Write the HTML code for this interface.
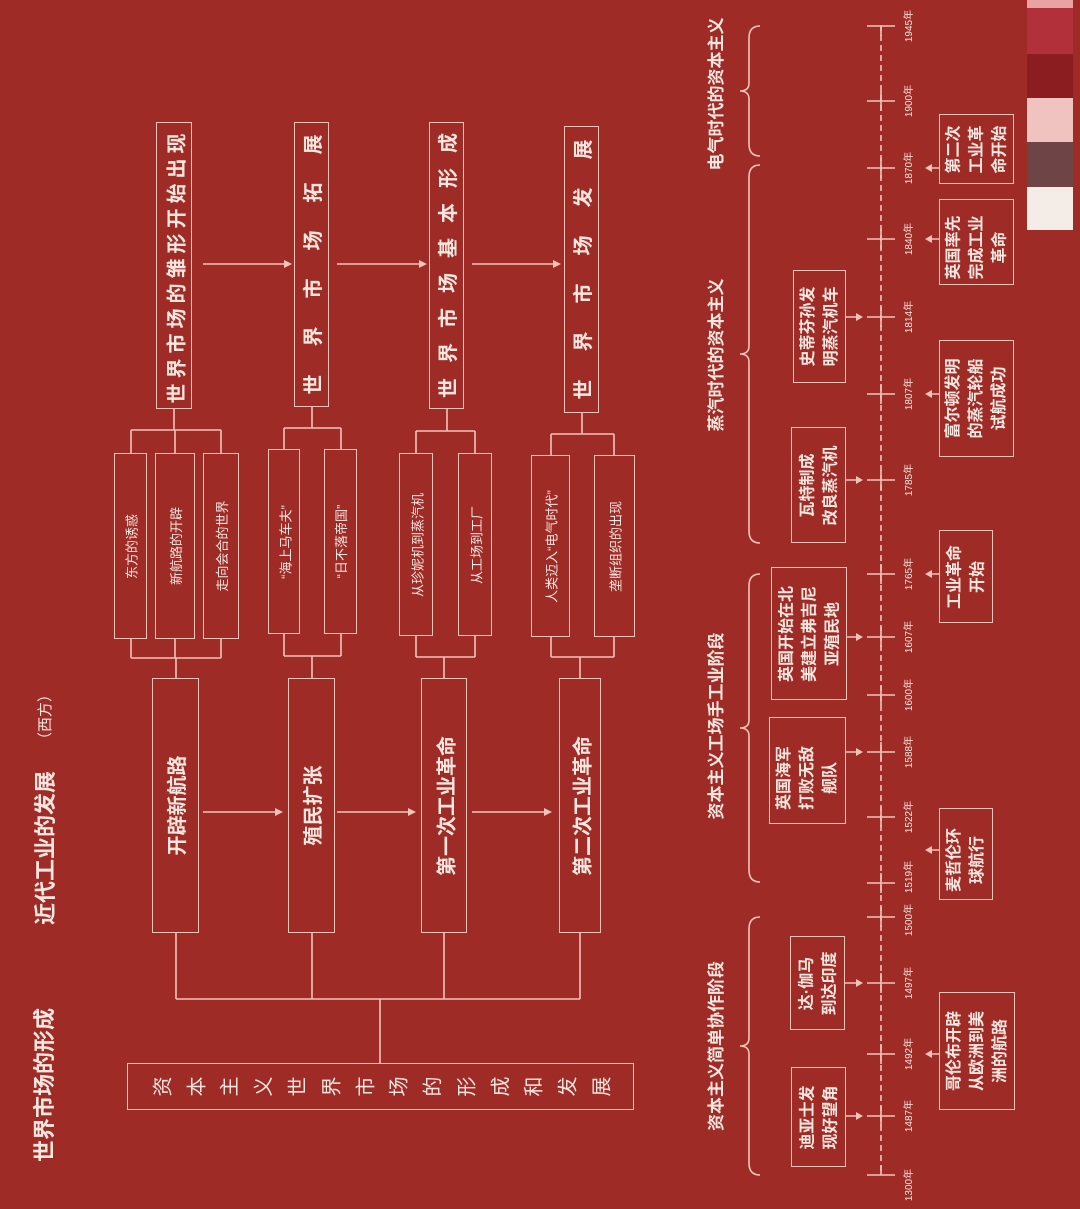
<!DOCTYPE html>
<html><head><meta charset="utf-8">
<style>
html,body{margin:0;padding:0}
body{width:1080px;height:1209px;background:#9f2b27;position:relative;overflow:hidden;font-family:"Liberation Sans","Noto Sans CJK SC",sans-serif;color:#f8e6df}
.b{position:absolute;border:1.6px solid #f1c4b8;box-sizing:border-box}
.t{position:absolute;left:50%;top:50%;display:flex;align-items:center;justify-content:center;text-align:center;transform:rotate(-90deg);white-space:nowrap}
.l{position:absolute;transform:rotate(-90deg);text-align:center;white-space:nowrap}
svg{position:absolute;left:0;top:0}
.yr{font-size:10px;letter-spacing:0}
.tl{font-size:16px;font-weight:bold;line-height:23px}
</style></head><body>

<svg width="1080" height="1209" viewBox="0 0 1080 1209">
<g stroke="#f1c4b8" stroke-width="1.6" fill="none">
<path d="M174 408V430M131 430H221M131 430V453M175 430V453M221 430V453"/>
<path d="M312 406V428M284 428H341M284 428V449M341 428V449"/>
<path d="M447 408V431M416 431H475M416 431V453M475 431V453"/>
<path d="M582 413V434M551 434H614M551 434V455M614 434V455"/>
<path d="M131 639V658M175 639V658M221 639V658M131 658H221M176 658V678"/>
<path d="M284 634V656M341 634V656M284 656H341M312 656V678"/>
<path d="M416 636V657M475 636V657M416 657H475M444 657V678"/>
<path d="M551 637V657M614 637V657M551 657H614M580 657V678"/>
<path d="M176 933V999M312 933V999M444 933V999M580 933V999M176 999H580M380 999V1063"/>
<path d="M203 264H286M337 264H421M472 264H555M203 812H277M337 812H410M472 812H546"/>
<path d="M881 25V1175" stroke-dasharray="6,4"/>
<path d="M867 26H895M867 101H895M867 168H895M867 239H895M867 317H895M867 394H895M867 480H895M867 574H895M867 637H895M867 695H895M867 752H895M867 817H895M867 883H895M867 917H895M867 983H895M867 1054H895M867 1116H895M867 1175H895"/>
<path d="M881 26V36M881 91V111M881 158V178M881 229V249M881 307V327M881 384V404M881 470V490M881 564V584M881 627V647M881 685V705M881 742V762M881 807V827M881 873V893M881 907V927M881 973V993M881 1044V1064M881 1106V1126M881 1165V1175"/>
<path d="M846 480H858M846 317H858M847 637H858M846 752H858M845 983H858M846 1116H858"/>
<path d="M939 168H929M939 239H929M939 394H929M939 574H929M939 850H929M939 1054H929"/>
<path d="M760 26Q749 26 749 38V83Q749 91 740 91Q749 91 749 99V144Q749 156 760 156"/>
<path d="M760 165Q749 165 749 177V346Q749 354 740 354Q749 354 749 362V531Q749 543 760 543"/>
<path d="M760 574Q749 574 749 586V720Q749 728 740 728Q749 728 749 736V870Q749 882 760 882"/>
<path d="M760 917Q749 917 749 929V1038Q749 1046 740 1046Q749 1046 749 1054V1163Q749 1175 760 1175"/>
</g>
<g fill="#f1c4b8">
<polygon points="292,264 284,260 284,268"/><polygon points="427,264 419,260 419,268"/><polygon points="561,264 553,260 553,268"/>
<polygon points="283,812 275,808 275,816"/><polygon points="416,812 408,808 408,816"/><polygon points="552,812 544,808 544,816"/>
<polygon points="863,480 856,476 856,484"/><polygon points="863,317 856,313 856,321"/><polygon points="863,637 856,633 856,641"/><polygon points="863,752 856,748 856,756"/><polygon points="863,983 856,979 856,987"/><polygon points="863,1116 856,1112 856,1120"/>
<polygon points="925,168 932,164 932,172"/><polygon points="925,239 932,235 932,243"/><polygon points="925,394 932,390 932,398"/><polygon points="925,574 932,570 932,578"/><polygon points="925,850 932,846 932,854"/><polygon points="925,1054 932,1050 932,1058"/>
</g>
<rect x="1027" y="0" width="46" height="8" fill="#e9a3a3"/>
<rect x="1027" y="8" width="46" height="46" fill="#b1303a"/>
<rect x="1027" y="54" width="46" height="44" fill="#8b1c20"/>
<rect x="1027" y="98" width="46" height="44" fill="#f0c2c0"/>
<rect x="1027" y="142" width="46" height="45" fill="#6f4446"/>
<rect x="1027" y="187" width="46" height="43" fill="#f4ece7"/>
</svg>

<div class="l" style="left:-45px;top:1072px;width:180px;height:26px;line-height:26px;font-size:22px;font-weight:bold">世界市场的形成</div>
<div class="l" style="left:-48px;top:835px;width:188px;height:26px;line-height:26px;font-size:22px;font-weight:bold">近代工业的发展</div>
<div class="l" style="left:6px;top:705px;width:80px;height:24px;line-height:24px;font-size:15px">（西方）</div>

<div class="b" style="left:156px;top:122px;width:36px;height:287px"><div class="t" style="width:287px;height:36px;margin-left:-143.5px;margin-top:-18px;font-size:20px;font-weight:bold;letter-spacing:5px">世界市场的雏形开始出现</div></div>
<div class="b" style="left:294px;top:122px;width:35px;height:285px"><div class="t" style="width:285px;height:35px;margin-left:-142.5px;margin-top:-17.5px;font-size:20px;font-weight:bold;letter-spacing:28px;text-indent:28px">世界市场拓展</div></div>
<div class="b" style="left:429px;top:122px;width:35px;height:287px"><div class="t" style="width:287px;height:35px;margin-left:-143.5px;margin-top:-17.5px;font-size:20px;font-weight:bold;letter-spacing:15px;text-indent:15px">世界市场基本形成</div></div>
<div class="b" style="left:564px;top:126px;width:35px;height:287px"><div class="t" style="width:287px;height:35px;margin-left:-143.5px;margin-top:-17.5px;font-size:20px;font-weight:bold;letter-spacing:28px;text-indent:28px">世界市场发展</div></div>

<div class="b" style="left:114px;top:453px;width:33px;height:186px"><div class="t" style="width:186px;height:33px;margin-left:-93px;margin-top:-16.5px;font-size:13px">东方的诱惑</div></div>
<div class="b" style="left:155px;top:453px;width:40px;height:186px"><div class="t" style="width:186px;height:40px;margin-left:-93px;margin-top:-20px;font-size:13px">新航路的开辟</div></div>
<div class="b" style="left:203px;top:453px;width:36px;height:186px"><div class="t" style="width:186px;height:36px;margin-left:-93px;margin-top:-18px;font-size:13px">走向会合的世界</div></div>
<div class="b" style="left:268px;top:449px;width:32px;height:185px"><div class="t" style="width:185px;height:32px;margin-left:-92.5px;margin-top:-16px;font-size:13px">“海上马车夫”</div></div>
<div class="b" style="left:324px;top:449px;width:33px;height:185px"><div class="t" style="width:185px;height:33px;margin-left:-92.5px;margin-top:-16.5px;font-size:13px">“日不落帝国”</div></div>
<div class="b" style="left:399px;top:453px;width:34px;height:183px"><div class="t" style="width:183px;height:34px;margin-left:-91.5px;margin-top:-17px;font-size:13px">从珍妮机到蒸汽机</div></div>
<div class="b" style="left:458px;top:453px;width:34px;height:183px"><div class="t" style="width:183px;height:34px;margin-left:-91.5px;margin-top:-17px;font-size:13px">从工场到工厂</div></div>
<div class="b" style="left:531px;top:455px;width:39px;height:182px"><div class="t" style="width:182px;height:39px;margin-left:-91px;margin-top:-19.5px;font-size:13px">人类迈入“电气时代”</div></div>
<div class="b" style="left:594px;top:455px;width:41px;height:182px"><div class="t" style="width:182px;height:41px;margin-left:-91px;margin-top:-20.5px;font-size:13px">垄断组织的出现</div></div>

<div class="b" style="left:152px;top:678px;width:47px;height:255px"><div class="t" style="width:255px;height:47px;margin-left:-127.5px;margin-top:-23.5px;font-size:20px;font-weight:bold">开辟新航路</div></div>
<div class="b" style="left:288px;top:678px;width:47px;height:255px"><div class="t" style="width:255px;height:47px;margin-left:-127.5px;margin-top:-23.5px;font-size:20px;font-weight:bold">殖民扩张</div></div>
<div class="b" style="left:421px;top:678px;width:46px;height:255px"><div class="t" style="width:255px;height:46px;margin-left:-127.5px;margin-top:-23px;font-size:20px;font-weight:bold">第一次工业革命</div></div>
<div class="b" style="left:559px;top:678px;width:42px;height:255px"><div class="t" style="width:255px;height:42px;margin-left:-127.5px;margin-top:-21px;font-size:20px;font-weight:bold">第二次工业革命</div></div>

<div class="b" style="left:127px;top:1063px;width:507px;height:47px;display:flex;align-items:center;justify-content:space-around;padding:0 16px;font-size:20px">
<span style="transform:rotate(-90deg)">资</span><span style="transform:rotate(-90deg)">本</span><span style="transform:rotate(-90deg)">主</span><span style="transform:rotate(-90deg)">义</span><span style="transform:rotate(-90deg)">世</span><span style="transform:rotate(-90deg)">界</span><span style="transform:rotate(-90deg)">市</span><span style="transform:rotate(-90deg)">场</span><span style="transform:rotate(-90deg)">的</span><span style="transform:rotate(-90deg)">形</span><span style="transform:rotate(-90deg)">成</span><span style="transform:rotate(-90deg)">和</span><span style="transform:rotate(-90deg)">发</span><span style="transform:rotate(-90deg)">展</span>
</div>

<div class="l" style="left:627px;top:83px;width:180px;height:22px;line-height:22px;font-size:17px;font-weight:bold">电气时代的资本主义</div>
<div class="l" style="left:627px;top:344px;width:180px;height:22px;line-height:22px;font-size:17px;font-weight:bold">蒸汽时代的资本主义</div>
<div class="l" style="left:612px;top:715px;width:210px;height:22px;line-height:22px;font-size:17px;font-weight:bold">资本主义工场手工业阶段</div>
<div class="l" style="left:617px;top:1035px;width:200px;height:22px;line-height:22px;font-size:17px;font-weight:bold">资本主义简单协作阶段</div>

<div class="l yr" style="left:889px;top:19px;width:42px;height:14px;line-height:14px">1945年</div>
<div class="l yr" style="left:889px;top:94px;width:42px;height:14px;line-height:14px">1900年</div>
<div class="l yr" style="left:889px;top:161px;width:42px;height:14px;line-height:14px">1870年</div>
<div class="l yr" style="left:889px;top:232px;width:42px;height:14px;line-height:14px">1840年</div>
<div class="l yr" style="left:889px;top:310px;width:42px;height:14px;line-height:14px">1814年</div>
<div class="l yr" style="left:889px;top:387px;width:42px;height:14px;line-height:14px">1807年</div>
<div class="l yr" style="left:889px;top:473px;width:42px;height:14px;line-height:14px">1785年</div>
<div class="l yr" style="left:889px;top:567px;width:42px;height:14px;line-height:14px">1765年</div>
<div class="l yr" style="left:889px;top:630px;width:42px;height:14px;line-height:14px">1607年</div>
<div class="l yr" style="left:889px;top:688px;width:42px;height:14px;line-height:14px">1600年</div>
<div class="l yr" style="left:889px;top:745px;width:42px;height:14px;line-height:14px">1588年</div>
<div class="l yr" style="left:889px;top:810px;width:42px;height:14px;line-height:14px">1522年</div>
<div class="l yr" style="left:889px;top:870px;width:42px;height:14px;line-height:14px">1519年</div>
<div class="l yr" style="left:889px;top:913px;width:42px;height:14px;line-height:14px">1500年</div>
<div class="l yr" style="left:889px;top:976px;width:42px;height:14px;line-height:14px">1497年</div>
<div class="l yr" style="left:889px;top:1047px;width:42px;height:14px;line-height:14px">1492年</div>
<div class="l yr" style="left:889px;top:1109px;width:42px;height:14px;line-height:14px">1487年</div>
<div class="l yr" style="left:889px;top:1178px;width:42px;height:14px;line-height:14px">1300年</div>

<div class="b" style="left:791px;top:427px;width:55px;height:116px"><div class="t tl" style="width:116px;height:55px;margin-left:-58px;margin-top:-27.5px;flex-direction:column">瓦特制成<br>改良蒸汽机</div></div>
<div class="b" style="left:793px;top:270px;width:53px;height:113px"><div class="t tl" style="width:113px;height:53px;margin-left:-56.5px;margin-top:-26.5px;flex-direction:column">史蒂芬孙发<br>明蒸汽机车</div></div>
<div class="b" style="left:771px;top:567px;width:76px;height:133px"><div class="t tl" style="width:133px;height:76px;margin-left:-66.5px;margin-top:-38px;flex-direction:column">英国开始在北<br>美建立弗吉尼<br>亚殖民地</div></div>
<div class="b" style="left:769px;top:717px;width:77px;height:107px"><div class="t tl" style="width:107px;height:77px;margin-left:-53.5px;margin-top:-38.5px;flex-direction:column;align-items:flex-start;padding-left:14px;box-sizing:border-box">英国海军<br>打败无敌<br>舰队</div></div>
<div class="b" style="left:790px;top:936px;width:55px;height:94px"><div class="t tl" style="width:94px;height:55px;margin-left:-47px;margin-top:-27.5px;flex-direction:column">达·伽马<br>到达印度</div></div>
<div class="b" style="left:791px;top:1067px;width:55px;height:100px"><div class="t tl" style="width:100px;height:55px;margin-left:-50px;margin-top:-27.5px;flex-direction:column">迪亚士发<br>现好望角</div></div>

<div class="b" style="left:939px;top:114px;width:75px;height:70px"><div class="t tl" style="width:70px;height:75px;margin-left:-35px;margin-top:-37.5px;flex-direction:column">第二次<br>工业革<br>命开始</div></div>
<div class="b" style="left:939px;top:199px;width:75px;height:86px"><div class="t tl" style="width:86px;height:75px;margin-left:-43px;margin-top:-37.5px;flex-direction:column;align-items:flex-start;padding-left:6px;box-sizing:border-box">英国率先<br>完成工业<br>革命</div></div>
<div class="b" style="left:939px;top:340px;width:75px;height:117px"><div class="t tl" style="width:117px;height:75px;margin-left:-58.5px;margin-top:-37.5px;flex-direction:column">富尔顿发明<br>的蒸汽轮船<br>试航成功</div></div>
<div class="b" style="left:939px;top:530px;width:54px;height:93px"><div class="t tl" style="width:93px;height:54px;margin-left:-46.5px;margin-top:-27px;flex-direction:column">工业革命<br>开始</div></div>
<div class="b" style="left:939px;top:808px;width:54px;height:92px"><div class="t tl" style="width:92px;height:54px;margin-left:-46px;margin-top:-27px;flex-direction:column;align-items:flex-start;padding-left:8px;box-sizing:border-box">麦哲伦环<br>球航行</div></div>
<div class="b" style="left:939px;top:992px;width:76px;height:118px"><div class="t tl" style="width:118px;height:76px;margin-left:-59px;margin-top:-38px;flex-direction:column">哥伦布开辟<br>从欧洲到美<br>洲的航路</div></div>

</body></html>
